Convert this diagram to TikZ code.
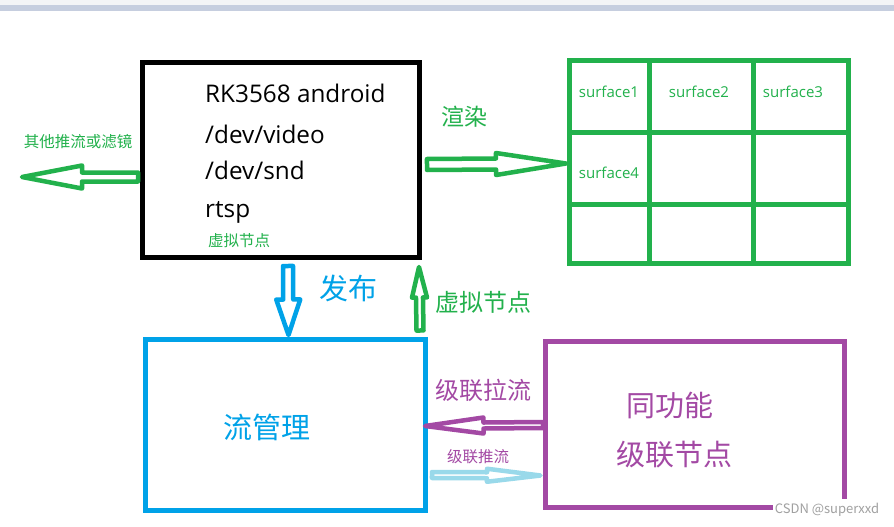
\documentclass[tikz,border=0pt]{standalone}
\usepackage{fontspec}
\setmainfont{Noto Sans CJK SC}
\newfontfamily\lat{Open Sans}
\usetikzlibrary{calc}
\definecolor{pgreen}{HTML}{22B14C}
\definecolor{pblue}{HTML}{00A2E8}
\definecolor{ppurple}{HTML}{A349A4}
\definecolor{plblue}{HTML}{99D9EA}
\definecolor{barA}{HTML}{F3F4F6}
\definecolor{barB}{HTML}{C6CEDF}
\definecolor{wmark}{HTML}{A0A0A0}
\newcommand{\fs}[1]{\fontsize{#1}{#1}\selectfont}
\newcommand{\hollowarrow}[6]{%
  \coordinate (hbtmp) at ($(#3)!#6!(#2)$);
  \draw[#1] ($(#2)!#4!90:(#3)$) -- ($(hbtmp)!#4!90:(#3)$) -- ($(hbtmp)!#5!90:(#3)$) -- (#3)
    -- ($(hbtmp)!#5!-90:(#3)$) -- ($(hbtmp)!#4!-90:(#3)$) -- ($(#2)!#4!-90:(#3)$) -- cycle;
}
\tikzset{
  bigbox/.style={draw=#1, line width=5pt, inner sep=0pt},
  cell/.style={draw=pgreen, line width=5pt, inner sep=0pt},
  harrow/.style={draw=#1, line width=4.5pt, line join=round, fill=white},
  lbl/.style={inner sep=0pt, text=#1},
}
\begin{document}
\begin{tikzpicture}[x=1pt,y=-1pt]
\useasboundingbox (0,0) rectangle (894,527);
\fill[white] (0,0) rectangle (894,527);
\fill[barA] (0,0) rectangle (894,5);
\fill[barB] (0,5) rectangle (894,11);

% main box
\node[bigbox=black, minimum width=277pt, minimum height=195pt] (rk) at (281,160) {};
\node[lbl=black, anchor=base west] (t1) at (205,102) {\lat\fs{24.3}RK3568 android};
\node[lbl=black, anchor=base west] (t2) at (205,143) {\lat\fs{24.3}/dev/video};
\node[lbl=black, anchor=base west] (t3) at (205,179) {\lat\fs{24.3}/dev/snd};
\node[lbl=black, anchor=base west] (t4) at (205,217) {\lat\fs{24.3}rtsp};
\node[lbl=pgreen] (vn1) at (239,241) {\fs{15.5}虚拟节点};

% grid of surfaces
\node[cell, minimum width=80pt, minimum height=72pt] (c11) at (609.5,96.5) {};
\node[cell, minimum width=104pt, minimum height=72pt] (c12) at (701.5,96.5) {};
\node[cell, minimum width=95pt, minimum height=72pt] (c13) at (801,96.5) {};
\node[cell, minimum width=80pt, minimum height=72pt] (c21) at (609.5,168.5) {};
\node[cell, minimum width=104pt, minimum height=72pt] (c22) at (701.5,168.5) {};
\node[cell, minimum width=95pt, minimum height=72pt] (c23) at (801,168.5) {};
\node[cell, minimum width=80pt, minimum height=58.5pt] (c31) at (609.5,233.75) {};
\node[cell, minimum width=104pt, minimum height=58.5pt] (c32) at (701.5,233.75) {};
\node[cell, minimum width=95pt, minimum height=58.5pt] (c33) at (801,233.75) {};
\node[lbl=pgreen] (s1) at (609,92) {\lat\fs{15}surface1};
\node[lbl=pgreen] (s2) at (699,92) {\lat\fs{15}surface2};
\node[lbl=pgreen] (s3) at (793,92) {\lat\fs{15}surface3};
\node[lbl=pgreen] (s4) at (609,173) {\lat\fs{15}surface4};

% lower boxes
\node[bigbox=pblue, minimum width=280pt, minimum height=171pt] (mgr) at (285.5,425) {};
\node[lbl=pblue] (mgrt) at (266.5,427) {\fs{29}流管理};
\node[bigbox=ppurple, minimum width=299pt, minimum height=166pt] (peer) at (695,424.5) {};
\node[lbl=ppurple] (peer1) at (669.5,405) {\fs{29}同功能};
\node[lbl=ppurple] (peer2) at (674.5,455) {\fs{29}级联节点};

% connector end points
\coordinate (aLs) at ($(rk.west)+(-2,17)$);
\coordinate (aLe) at (22,177);
\coordinate (aRs) at ($(rk.east)+(5,4.5)$);
\coordinate (aRe) at ($(c21.west)+(-1,-5)$);
\coordinate (aDs) at ($(rk.south)+(7,6)$);
\coordinate (aDe) at ($(mgr.north)+(3,-2)$);
\coordinate (aUs) at ($(mgr.north east)+(-8,-6.5)$);
\coordinate (aUe) at ($(rk.south east)+(-3,7)$);
\coordinate (aPs) at ($(peer.west)+(0,0.5)$);
\coordinate (aPe) at ($(mgr.east)+(-3,1)$);
\coordinate (aBs) at ($(mgr.east)+(4,50)$);
\coordinate (aBe) at ($(peer.west)+(-2.5,51)$);

\hollowarrow{harrow=pgreen}{aLs}{aLe}{4.5pt}{11.5pt}{60pt}
\hollowarrow{harrow=pgreen}{aRs}{aRe}{5.5pt}{11pt}{70pt}
\hollowarrow{harrow=pblue}{aDs}{aDe}{5pt}{12pt}{35.5pt}
\hollowarrow{harrow=pgreen}{aUs}{aUe}{3.5pt}{7.5pt}{30.5pt}
\hollowarrow{harrow=ppurple}{aPs}{aPe}{3pt}{8pt}{58.5pt}
\hollowarrow{harrow=plblue}{aBs}{aBe}{3pt}{6.5pt}{53.5pt}

% labels
\node[lbl=pgreen] (l1) at (78,142) {\fs{15.5}其他推流或滤镜};
\node[lbl=pgreen] (l2) at (464,117) {\fs{23}渲染};
\node[lbl=pblue] (l3) at (348,288) {\fs{29}发布};
\node[lbl=pgreen] (l4) at (483,302) {\fs{24}虚拟节点};
\node[lbl=ppurple] (l5) at (483,390) {\fs{24}级联拉流};
\node[lbl=ppurple] (l6) at (478,457) {\fs{15.5}级联推流};
\node[lbl=wmark, fill=white, inner xsep=2pt, inner ysep=4pt] (wm) at (827,510) {\fs{13}CSDN @superxxd};
\end{tikzpicture}
\end{document}
